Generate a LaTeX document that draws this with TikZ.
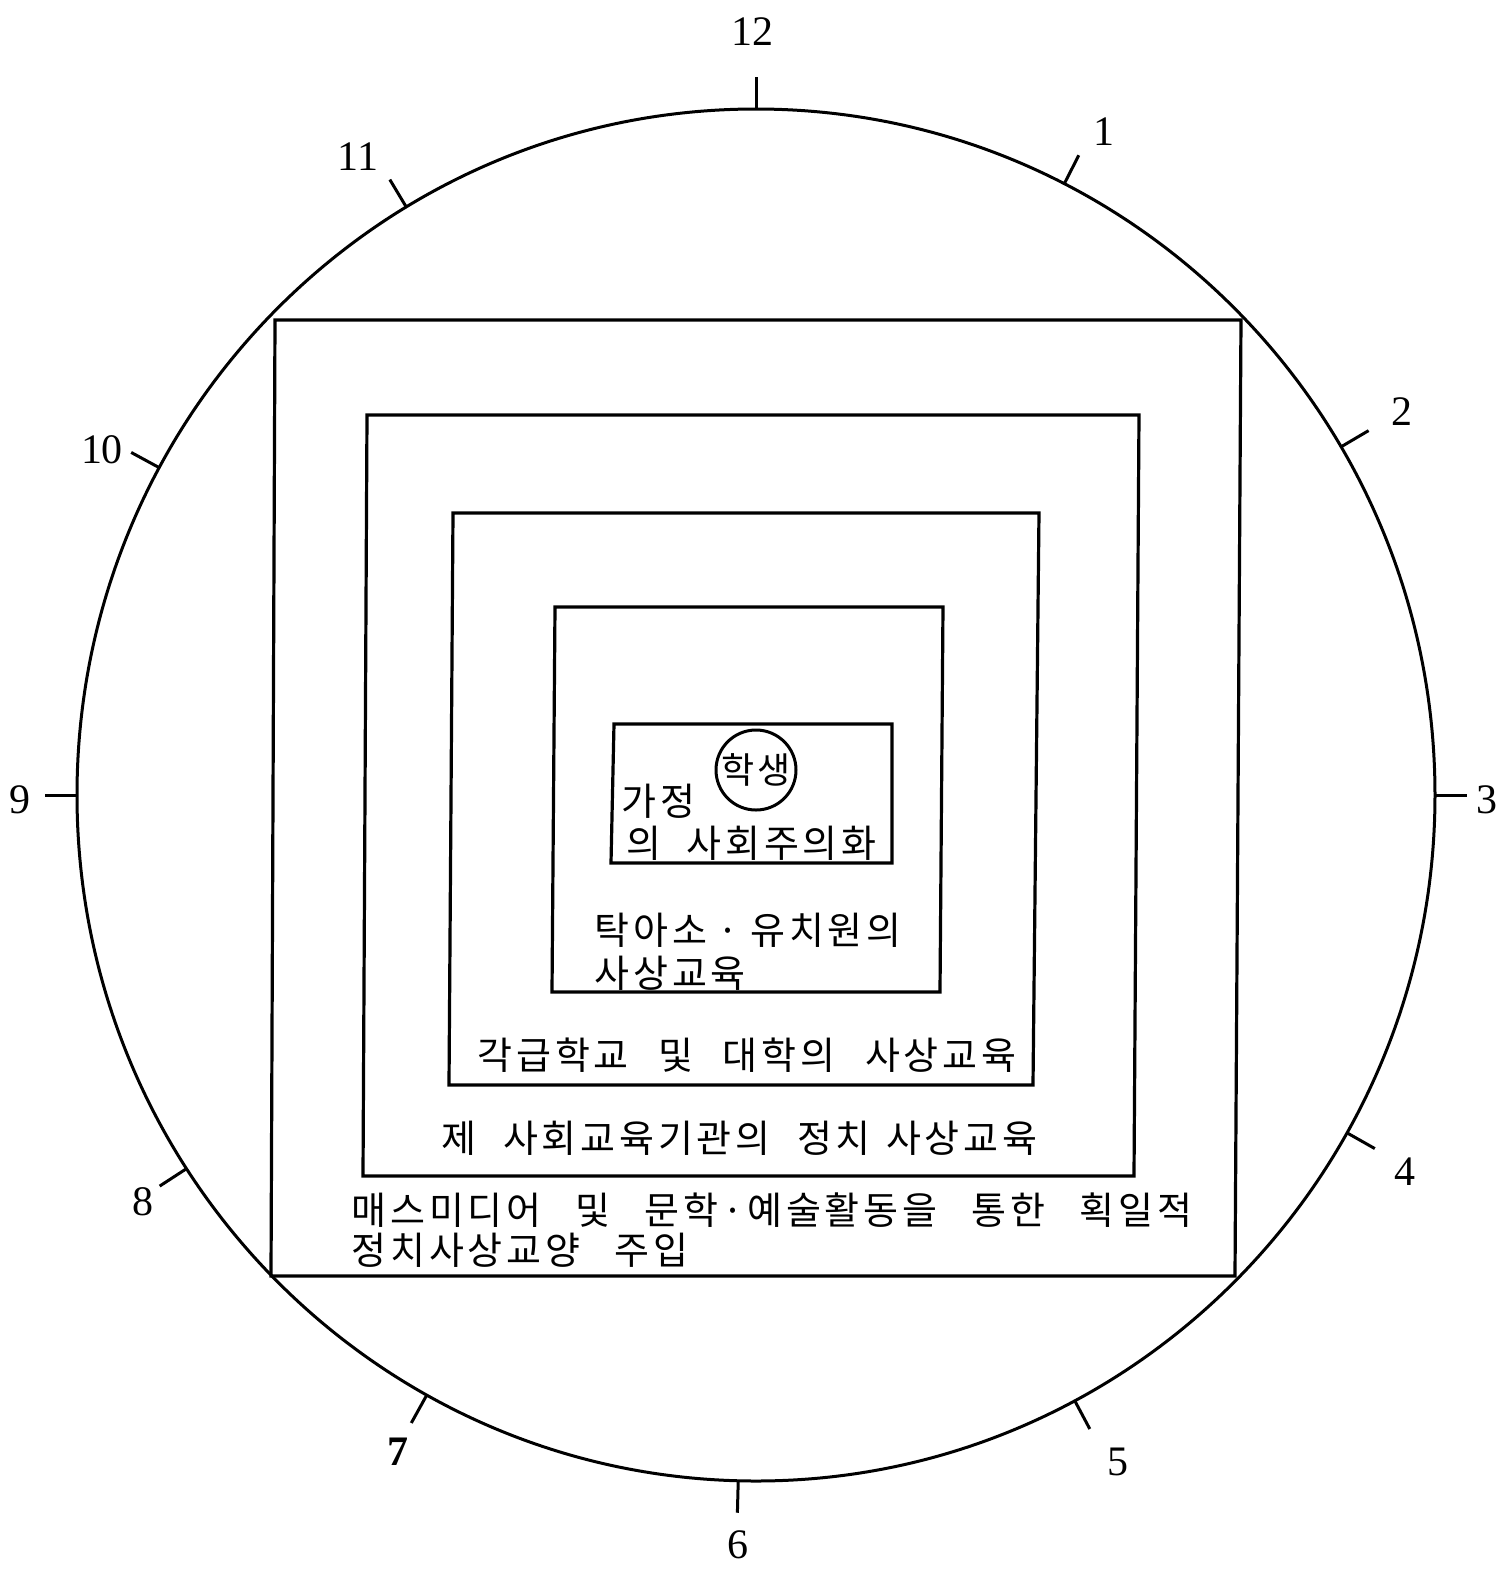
\documentclass[tikz,border=0pt]{standalone}
\usepackage{fontspec}
\setmainfont{Liberation Serif}
\newfontfamily\kr[LetterSpace=10]{Noto Sans CJK KR}
\newcommand\wgap[1]{\hspace{#1em}}
\begin{document}
\begin{tikzpicture}[x=0.5pt,y=-0.5pt,line width=1.5pt,
  kt/.style={font=\kr\fontsize{19}{23}\selectfont,inner sep=0pt,anchor=west},
  num/.style={font=\fontsize{21}{25}\selectfont,inner sep=0pt},
  frame/.style={line width=1.6pt,line join=miter}]
\useasboundingbox (0,0) rectangle (1507,1571);
\coordinate (C) at (756,795);
\draw (C) ellipse [x radius=679, y radius=686];
% clock ticks
\foreach \a/\n in {90/12,63/1,30.5/2,0/3,-29.5/4,-62/5,-91.5/6,-119/7,-147/8,180/9,151.5/10,121/11}{
  \draw (C) ++(-\a:679 and 686) coordinate (ti\n) -- ++(-\a:32) coordinate (to\n);
}
\node[num] (n12) at (752,32) {12};
\node[num] (n1) at (1104,132) {1};
\node[num] (n2) at (1402,412) {2};
\node[num] (n3) at (1487,800) {3};
\node[num] (n4) at (1405,1172) {4};
\node[num] (n5) at (1118,1462) {5};
\node[num] (n6) at (738,1545) {6};
\node[num,font=\bfseries\fontsize{21}{25}\selectfont] (n7) at (398,1452) {7};
\node[num] (n8) at (143,1202) {8};
\node[num] (n9) at (20,800) {9};
\node[num] (n10) at (102,450) {10};
\node[num] (n11) at (358,157) {11};
% nested frames
\draw[frame] (275,320) -- (1241,320) -- (1235,1276) -- (271,1276) -- cycle;
\draw[frame] (367,415) -- (1139,415) -- (1134,1176) -- (363,1176) -- cycle;
\draw[frame] (453,513) -- (1039,513) -- (1033,1085) -- (449,1085) -- cycle;
\draw[frame] (555,607) -- (943,607) -- (940,992) -- (552,992) -- cycle;
\draw[frame] (614,724) -- (892,724) -- (892,863) -- (611,863) -- cycle;
% texts
\node[circle,draw,line width=1.5pt,minimum size=40pt,inner sep=0pt,
  font=\kr\fontsize{18}{20}\selectfont] (stu) at (756,770) {학생};
\node[kt] (home1) at (620,801) {가정};
\node[kt] (home2) at (625,843) {의\hspace{0.66em}사회주의화};
\node[kt] (kin1) at (593,930) {탁아소\hspace{5.5pt}·\hspace{5.5pt}유치원의};
\node[kt] (kin2) at (593,973) {사상교육};
\node[kt] (sch) at (476,1055) {각급학교\wgap{0.78}및\wgap{0.78}대학의\wgap{0.78}사상교육};
\node[kt] (soc) at (440,1138) {제\wgap{0.7}사회교육기관의\wgap{0.7}정치\wgap{0.4}사상교육};
\node[kt] (med1) at (350,1210) {매스미디어\wgap{0.9}및\wgap{0.9}문학·예술활동을\wgap{0.9}통한\wgap{0.9}획일적};
\node[kt] (med2) at (350,1250) {정치사상교양\wgap{0.9}주입};
\end{tikzpicture}
\end{document}
